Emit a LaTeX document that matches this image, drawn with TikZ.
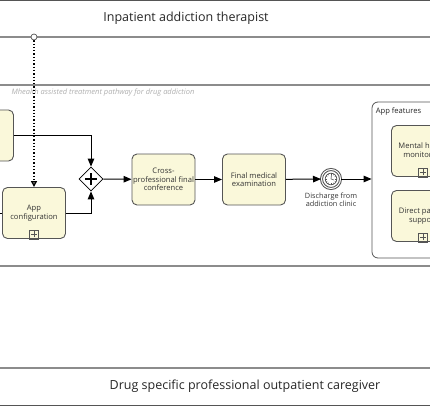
\documentclass[tikz,border=0pt]{standalone}
\usepackage{fontspec}
\setmainfont{Open Sans}
\usetikzlibrary{arrows.meta,shapes.geometric}

\definecolor{taskfill}{RGB}{250,248,218}
\definecolor{taskline}{RGB}{85,85,85}
\definecolor{laneline}{RGB}{140,140,140}
\definecolor{poolgray}{RGB}{175,175,175}

\begin{document}
\begin{tikzpicture}[x=1pt,y=-1pt,
	task/.style={draw=taskline, fill=taskfill, rounded corners=5pt, line width=0.9pt,
		minimum width=63pt, minimum height=51pt, align=center, inner sep=1pt,
		font=\fontsize{7.6}{8.6}\selectfont, text=black!80},
	flow/.style={-{Triangle[length=8pt,width=6.5pt]}, line width=1pt, black},
	message/.style={-{Triangle[open,length=6pt,width=6pt,fill=white]}, line width=1.4pt,
		dash pattern=on 1.3pt off 2pt},
	lane/.style={draw=laneline, line width=1.2pt},
	gateway/.style={diamond, draw=black, fill=white, line width=0.8pt, minimum size=24pt, inner sep=0pt},
	event/.style={circle, draw=taskline, fill=white, line width=1pt, double=white,
		double distance=1pt, minimum size=19pt, inner sep=0pt},
	lanetitle/.style={font=\fontsize{12.5}{14}\selectfont, text=black!85}]
	\useasboundingbox (0,0) rectangle (430,406);
	% Lanes
	\draw [draw=taskline, line width=1pt] (0,1) -- (430,1);
	\draw [lane] (0,37) -- (430,37);
	\draw [lane] (0,85) -- (430,85);
	\draw [lane] (0,266) -- (430,266);
	\draw [lane] (0,368) -- (430,368);
	\draw [draw=taskline, line width=1pt] (0,405) -- (430,405);
	\node[lanetitle] (inpatient) at (186,18) {Inpatient addiction therapist};
	\node[lanetitle] (outpatient) at (245,386) {Drug specific professional outpatient caregiver};
	\node[anchor=west, text=poolgray, font=\fontsize{7.5}{8}\selectfont\itshape] (pool) at (8,93)
		{Mhealth assisted treatment pathway for drug addiction};
	% Tasks
	\node[task] (previous) at (-18,135.5) {};
	\node[task] (appconf)  at (34,213)    {App\\configuration};
	\node[gateway] (gw)    at (91,179)    {};
	\node[task] (crossconf) at (163.5,179.5) {Cross-\\professional final\\conference};
	\node[task] (exam)     at (254,179.5) {Final medical\\examination};
	\node[event] (discharge) at (331,179) {};
	\node[align=center, font=\fontsize{7.3}{8}\selectfont, text=black!80, inner sep=0pt] (dischargelabel)
		at (331,200) {Discharge from\\addiction clinic};
	\node[draw=taskline, fill=white, rounded corners=6pt, line width=0.8pt,
		minimum width=136pt, minimum height=156pt] (features) at (440,180) {};
	\node[anchor=north west, font=\fontsize{7.6}{8.6}\selectfont, text=black!85, inner sep=0pt] (featureslabel)
		at ([xshift=4pt,yshift=-6pt]features.north west) {App features};
	\node[task] (monitor)  at (423,151) {Mental health\\monitoring};
	\node[task] (support)  at (423,216) {Direct patient\\support};
	% Markers
	\draw [line width=1.6pt] ([xshift=-6pt]gw.center) -- ([xshift=6pt]gw.center)
		([yshift=-6pt]gw.center) -- ([yshift=6pt]gw.center);
	\foreach \n in {appconf,monitor,support}
		\draw [draw=taskline, line width=0.6pt] ([xshift=-4.5pt]\n.south) rectangle ([xshift=4.5pt,yshift=9pt]\n.south)
			([yshift=1.5pt]\n.south) -- ([yshift=7.5pt]\n.south)
			([xshift=-3pt,yshift=4.5pt]\n.south) -- ([xshift=3pt,yshift=4.5pt]\n.south);
	\draw [taskline, line width=0.7pt] (discharge.center) circle (5.8pt);
	\foreach \a in {0,30,...,330}
		\draw [taskline, line width=0.4pt] ([shift={(\a:4.3)}]discharge.center) -- ([shift={(\a:5.8)}]discharge.center);
	\draw [taskline, line width=0.6pt] (discharge.center) -- ++(0.5,-4.3) (discharge.center) -- ++(3,1);
	% Flows
	\coordinate (inflow) at (-10,213);
	\draw [line width=0.9pt] (inflow) -- (appconf.west);
	\draw [flow] (previous) -| (gw.north);
	\draw [flow] (appconf) -| (gw.south);
	\draw [flow] (gw) -- (crossconf);
	\draw [flow] (crossconf) -- (exam);
	\draw [flow] (exam) -- (discharge);
	\draw [flow] (discharge) -- (discharge -| features.west);
	\coordinate (msgstart) at (34,37);
	\draw [message] (msgstart) -- (appconf.north);
	\draw [taskline, fill=white, line width=0.7pt] (msgstart) circle (3pt);
\end{tikzpicture}
\end{document}
